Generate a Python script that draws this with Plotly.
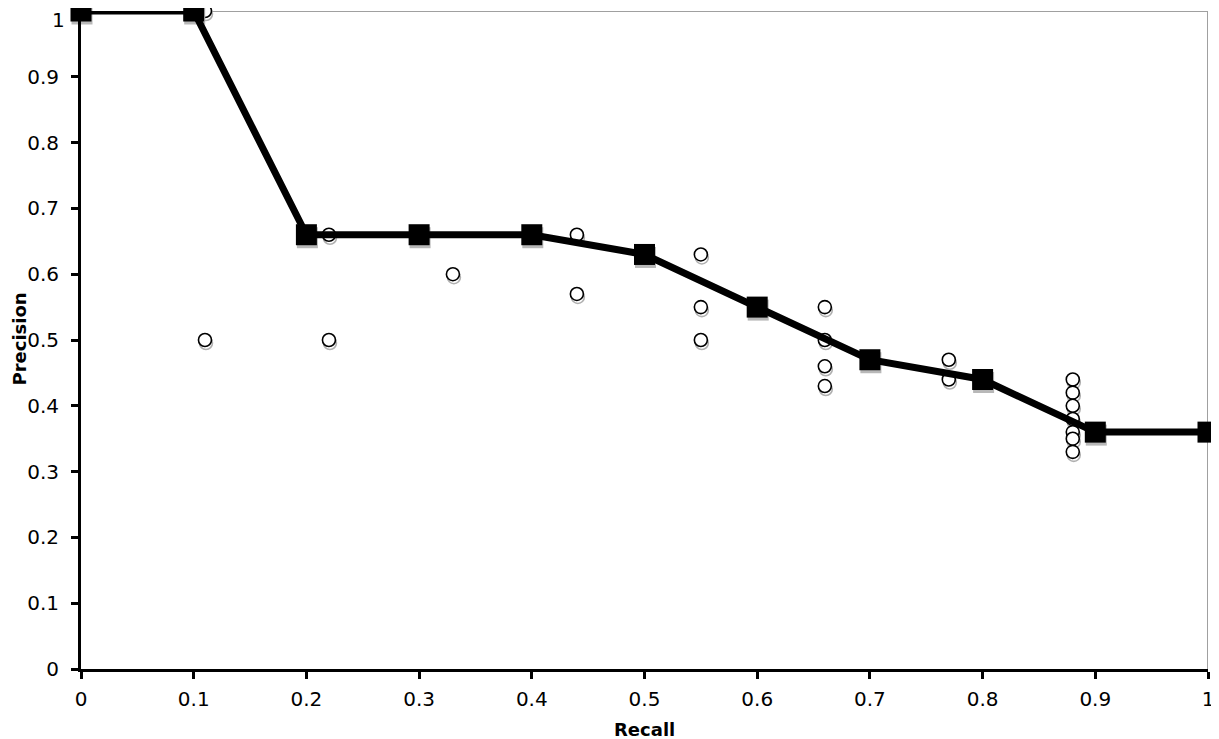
import plotly.graph_objects as go

# Interpolated precision (black squares + line)
interp_recall = [0.0, 0.1, 0.2, 0.3, 0.4, 0.5, 0.6, 0.7, 0.8, 0.9, 1.0]
interp_precision = [1.0, 1.0, 0.66, 0.66, 0.66, 0.63, 0.55, 0.47, 0.44, 0.36, 0.36]

# Raw precision/recall points (open circles)
raw_recall = [0.11, 0.11, 0.22, 0.22, 0.33, 0.44, 0.44, 0.55, 0.55, 0.55,
              0.66, 0.66, 0.66, 0.66, 0.77, 0.77,
              0.88, 0.88, 0.88, 0.88, 0.88, 0.88, 0.88]
raw_precision = [1.0, 0.5, 0.66, 0.5, 0.6, 0.66, 0.57, 0.63, 0.55, 0.5,
                 0.55, 0.5, 0.46, 0.43, 0.47, 0.44,
                 0.44, 0.42, 0.40, 0.38, 0.36, 0.35, 0.33]

tick_vals = [0, 0.1, 0.2, 0.3, 0.4, 0.5, 0.6, 0.7, 0.8, 0.9, 1]
tick_text = ["0", "0.1", "0.2", "0.3", "0.4", "0.5", "0.6", "0.7", "0.8", "0.9", "1"]

# page has an 8px body margin: figure is shifted by 8px
W, H = 1211, 731
ML, MR, MT, MB = 73, 11, 3, 70
plot_h = H - MT - MB
plot_w = W - ML - MR
sdy = 3.0 / plot_h   # shadow offset (pixels -> data units)
sdx = 1.0 / plot_w

FAMILY = "DejaVu Sans, Verdana, sans-serif"

fig = go.Figure()

# shadows for circles
fig.add_trace(go.Scatter(
    x=[v + sdx for v in raw_recall], y=[v - sdy for v in raw_precision],
    mode="markers", cliponaxis=False, hoverinfo="skip", showlegend=False,
    marker=dict(symbol="circle-open", size=13, color="#b0b0b0", line=dict(width=1.6))))
# circles
fig.add_trace(go.Scatter(
    x=raw_recall, y=raw_precision, mode="markers", cliponaxis=False, showlegend=False,
    marker=dict(symbol="circle", size=13, color="white", line=dict(color="black", width=1.6))))
# square shadows
fig.add_trace(go.Scatter(
    x=[v + sdx for v in interp_recall], y=[v - sdy for v in interp_precision],
    mode="markers", cliponaxis=False, hoverinfo="skip", showlegend=False,
    marker=dict(symbol="square", size=21, color="#b8b8b8", line=dict(width=0))))
# line + squares
fig.add_trace(go.Scatter(
    x=interp_recall, y=interp_precision, mode="lines+markers", cliponaxis=False,
    showlegend=False,
    line=dict(color="black", width=7),
    marker=dict(symbol="square", size=21, color="black", line=dict(width=0))))

axis_font = dict(family=FAMILY, size=20, color="black")

common = dict(range=[0, 1], tickvals=tick_vals,
              showgrid=False, zeroline=False, showline=True, linecolor="black",
              linewidth=3, ticks="outside", ticklen=7, tickwidth=3, tickcolor="black",
              tickfont=axis_font, automargin=False, ticklabeloverflow="allow")

# top y label ("1") is drawn as an annotation, nudged down so it stays inside the page
y_ticktext = tick_text[:-1] + [""]

fig.update_layout(
    width=W, height=H,
    margin=dict(l=ML, r=MR, t=MT, b=MB),
    paper_bgcolor="white", plot_bgcolor="white",
    font=axis_font,
    xaxis=dict(**common, ticktext=tick_text, ticklabelstandoff=3),
    yaxis=dict(**common, ticktext=y_ticktext, ticklabelstandoff=8),
    shapes=[
        dict(type="line", xref="x", yref="y", x0=0, x1=1, y0=1, y1=1,
             line=dict(color="#a0a0a0", width=2), layer="below"),
        dict(type="line", xref="x", yref="y", x0=1, x1=1, y0=0, y1=1,
             line=dict(color="#a0a0a0", width=2), layer="below"),
    ],
    annotations=[
        dict(text=tick_text[-1], xref="paper", yref="y", x=0, y=tick_vals[-1],
             xanchor="right", yanchor="middle", xshift=-14, yshift=-9,
             showarrow=False, font=axis_font),
        dict(text="<b>Recall</b>", xref="paper", yref="paper",
             x=(636 - ML) / plot_w, y=(MT + plot_h - 721) / plot_h,
             xanchor="center", yanchor="middle", showarrow=False,
             font=dict(family=FAMILY, size=18, color="black")),
        dict(text="<b>Precision</b>", xref="paper", yref="paper",
             x=(0 - ML) / plot_w, y=(MT + plot_h - 331) / plot_h,
             xanchor="left", yanchor="middle", showarrow=False, textangle=-90,
             xshift=-2,
             font=dict(family=FAMILY, size=18, color="black")),
    ],
)

fig.write_html("out.html")
